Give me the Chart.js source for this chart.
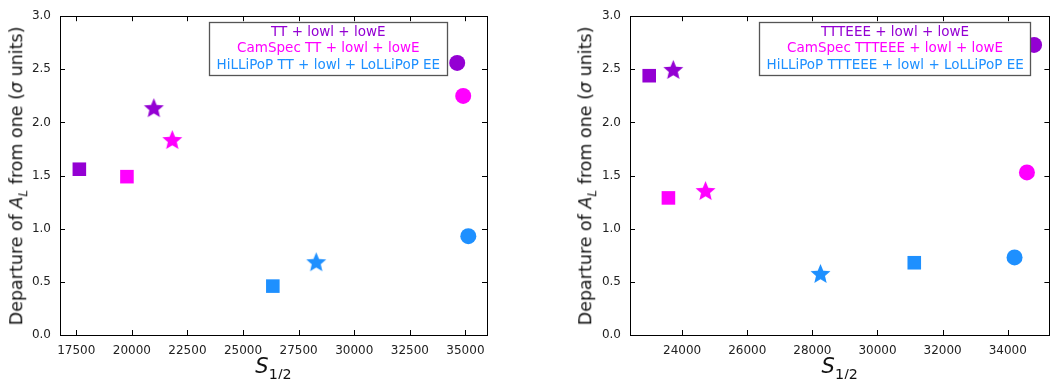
<!DOCTYPE html>
<html>
<head>
<meta charset="utf-8">
<script src="https://cdn.jsdelivr.net/npm/chart.js@4"></script>
<style>
  body { margin: 0; background: #fff; width: 1059px; height: 379px; overflow: hidden; font-family: "DejaVu Sans", sans-serif; }
  .panel { position: absolute; top: 0; height: 379px; }
  #p1 { left: 0; width: 530px; }
  #p2 { left: 530px; width: 529px; }
  .ytitle { position: absolute; white-space: nowrap; transform: translate(-50%, -50%) rotate(-90deg); font-size: 17.5px; color: #111; }
  .xtitle { position: absolute; white-space: nowrap; transform: translate(-50%, -50%); font-size: 21px; color: #111; }
  sub { font-size: 0.68em; }
</style>
</head>
<body>
<div class="panel" id="p1"><canvas id="c1"></canvas></div>
<div class="panel" id="p2"><canvas id="c2"></canvas></div>

<script>
// --- data --------------------------------------------------------------
// marker order in every series: square, star, circle
const markerShapes = ['rect', 'star', 'circle'];
const yTicks = [0.0, 0.5, 1.0, 1.5, 2.0, 2.5, 3.0];

// left panel: TT
const ttLabels = ['TT + lowl + lowE', 'CamSpec TT + lowl + lowE', 'HiLLiPoP TT + lowl + LoLLiPoP EE'];
const ttPlikS = [17640, 20990, 34630];
const ttPlikA = [1.56, 2.13, 2.56];
const ttCamS = [19780, 21820, 34900];
const ttCamA = [1.49, 1.83, 2.25];
const ttHilS = [26340, 28290, 35130];
const ttHilA = [0.46, 0.68, 0.93];
const ttXTicks = [17500, 20000, 22500, 25000, 27500, 30000, 32500, 35000];

// right panel: TTTEEE
const teLabels = ['TTTEEE + lowl + lowE', 'CamSpec TTTEEE + lowl + lowE', 'HiLLiPoP TTTEEE + lowl + LoLLiPoP EE'];
const tePlikS = [22990, 23730, 34810];
const tePlikA = [2.44, 2.49, 2.73];
const teCamS = [23580, 24720, 34590];
const teCamA = [1.29, 1.35, 1.53];
const teHilS = [31130, 28250, 34210];
const teHilA = [0.68, 0.57, 0.73];
const teXTicks = [24000, 26000, 28000, 30000, 32000, 34000];

const COLORS = ['#9400D3', '#FF00FF', '#1E90FF'];
const TICK_COLOR = '#222';

// filled five-point star, used as a point image
function starImage(color, r) {
  const c = document.createElement('canvas');
  const s = Math.ceil(r * 2 + 2);
  c.width = s; c.height = s;
  const g = c.getContext('2d');
  g.fillStyle = color;
  g.beginPath();
  for (let i = 0; i < 10; i++) {
    const rad = i % 2 === 0 ? r : r * 0.45;
    const a = -Math.PI / 2 + i * Math.PI / 5;
    g.lineTo(s / 2 + rad * Math.cos(a), s / 2 + rad * Math.sin(a));
  }
  g.closePath();
  g.fill();
  return c;
}

function makeDataset(label, xs, ys, color) {
  const star = starImage(color, 10.5);
  return {
    label,
    data: xs.map((x, i) => ({ x, y: ys[i] })),
    backgroundColor: color,
    borderColor: color,
    borderWidth: 0,
    pointStyle: markerShapes.map(s => s === 'star' ? star : s),
    pointRadius: markerShapes.map(s => s === 'rect' ? 9.6 : 8),
    pointHoverRadius: markerShapes.map(s => s === 'rect' ? 9.6 : 8),
    clip: false
  };
}

// frame + inward ticks on all four sides (gnuplot-like box)
const frameTicks = {
  id: 'frameTicks',
  beforeDatasetsDraw(chart) {
    const { ctx, chartArea: a, scales } = chart;
    const len = 5;
    ctx.save();
    ctx.strokeStyle = '#000';
    ctx.lineWidth = 1;
    ctx.beginPath();
    scales.x.ticks.forEach(t => {
      const px = Math.round(scales.x.getPixelForValue(t.value)) + 0.5;
      ctx.moveTo(px, a.bottom); ctx.lineTo(px, a.bottom - len);
      ctx.moveTo(px, a.top); ctx.lineTo(px, a.top + len);
    });
    scales.y.ticks.forEach(t => {
      const py = Math.round(scales.y.getPixelForValue(t.value)) + 0.5;
      ctx.moveTo(a.left, py); ctx.lineTo(a.left + len, py);
      ctx.moveTo(a.right, py); ctx.lineTo(a.right - len, py);
    });
    ctx.stroke();
    ctx.strokeRect(Math.round(a.left) + 0.5, Math.round(a.top) + 0.5,
                   Math.round(a.right - a.left), Math.round(a.bottom - a.top));
    ctx.restore();
  }
};

// text-only legend in a box, top right inside the plot area
const boxLegend = {
  id: 'boxLegend',
  afterDraw(chart, args, opts) {
    const { ctx, chartArea: a } = chart;
    const sets = chart.data.datasets;
    ctx.save();
    ctx.font = opts.font;
    const w = Math.max(...sets.map(d => ctx.measureText(d.label).width)) + 2 * opts.padX;
    const h = sets.length * opts.lineHeight + 2 * opts.padY;
    const x0 = Math.round(a.right - opts.right - w) + 0.5;
    const y0 = Math.round(a.top + opts.top) + 0.5;
    ctx.fillStyle = '#fff';
    ctx.fillRect(x0, y0, w, h);
    ctx.strokeStyle = '#555';
    ctx.lineWidth = 1.3;
    ctx.strokeRect(x0, y0, Math.round(w), Math.round(h));
    ctx.textAlign = 'center';
    ctx.textBaseline = 'middle';
    sets.forEach((d, i) => {
      ctx.fillStyle = d.backgroundColor;
      ctx.fillText(d.label, x0 + w / 2, y0 + opts.padY + opts.lineHeight * (i + 0.5));
    });
    ctx.restore();
  }
};

function makeChart(id, labels, series, xTicks, xMin, xMax, yAxisWidth, padRight, legendRight) {
  return new Chart(document.getElementById(id), {
    type: 'scatter',
    data: { datasets: series.map((s, i) => makeDataset(labels[i], s[0], s[1], COLORS[i])) },
    plugins: [frameTicks, boxLegend],
    options: {
      responsive: true,
      maintainAspectRatio: false,
      animation: false,
      events: [],
      layout: { padding: { top: 13, right: padRight, left: 0, bottom: 0 } },
      scales: {
        x: {
          type: 'linear', min: xMin, max: xMax,
          afterBuildTicks: s => { s.ticks = xTicks.map(v => ({ value: v })); },
          afterFit: s => { s.height = 44; },
          grid: { display: false, drawTicks: false },
          border: { display: false },
          ticks: { color: TICK_COLOR, padding: 9, maxRotation: 0, font: { family: 'DejaVu Sans', size: 12 }, callback: v => String(v) }
        },
        y: {
          type: 'linear', min: 0, max: 3,
          afterBuildTicks: s => { s.ticks = yTicks.map(v => ({ value: v })); },
          afterFit: s => { s.width = yAxisWidth; },
          grid: { display: false, drawTicks: false },
          border: { display: false },
          ticks: { color: TICK_COLOR, padding: 9, font: { family: 'DejaVu Sans', size: 12 }, callback: v => Number(v).toFixed(1) }
        }
      },
      plugins: {
        legend: { display: false },
        tooltip: { enabled: false },
        boxLegend: { font: '13.5px "DejaVu Sans"', lineHeight: 16.3, padX: 7, padY: 2, top: 6, right: legendRight }
      }
    }
  });
}

const left = makeChart('c1', ttLabels,
  [[ttPlikS, ttPlikA], [ttCamS, ttCamA], [ttHilS, ttHilA]],
  ttXTicks, 16770, 35970, 60, 43, 40);
const right = makeChart('c2', teLabels,
  [[tePlikS, tePlikA], [teCamS, teCamA], [teHilS, teHilA]],
  teXTicks, 22400, 35280, 100, 5, 19);

// axis titles as HTML (italic symbols with subscripts)
function addTitles(chart, panelId, yTitleX) {
  const a = chart.chartArea;
  const p = document.getElementById(panelId);
  const yt = document.createElement('div');
  yt.className = 'ytitle';
  yt.innerHTML = 'Departure of <i>A<sub>L</sub></i> from one (<i>σ</i> units)';
  yt.style.left = yTitleX + 'px';
  yt.style.top = ((a.top + a.bottom) / 2) + 'px';
  p.appendChild(yt);
  const xt = document.createElement('div');
  xt.className = 'xtitle';
  xt.innerHTML = '<i>S</i><sub>1/2</sub>';
  xt.style.left = ((a.left + a.right) / 2) + 'px';
  xt.style.top = '368px';
  p.appendChild(xt);
}
addTitles(left, 'p1', 18);
addTitles(right, 'p2', 57);
</script>
</body>
</html>
